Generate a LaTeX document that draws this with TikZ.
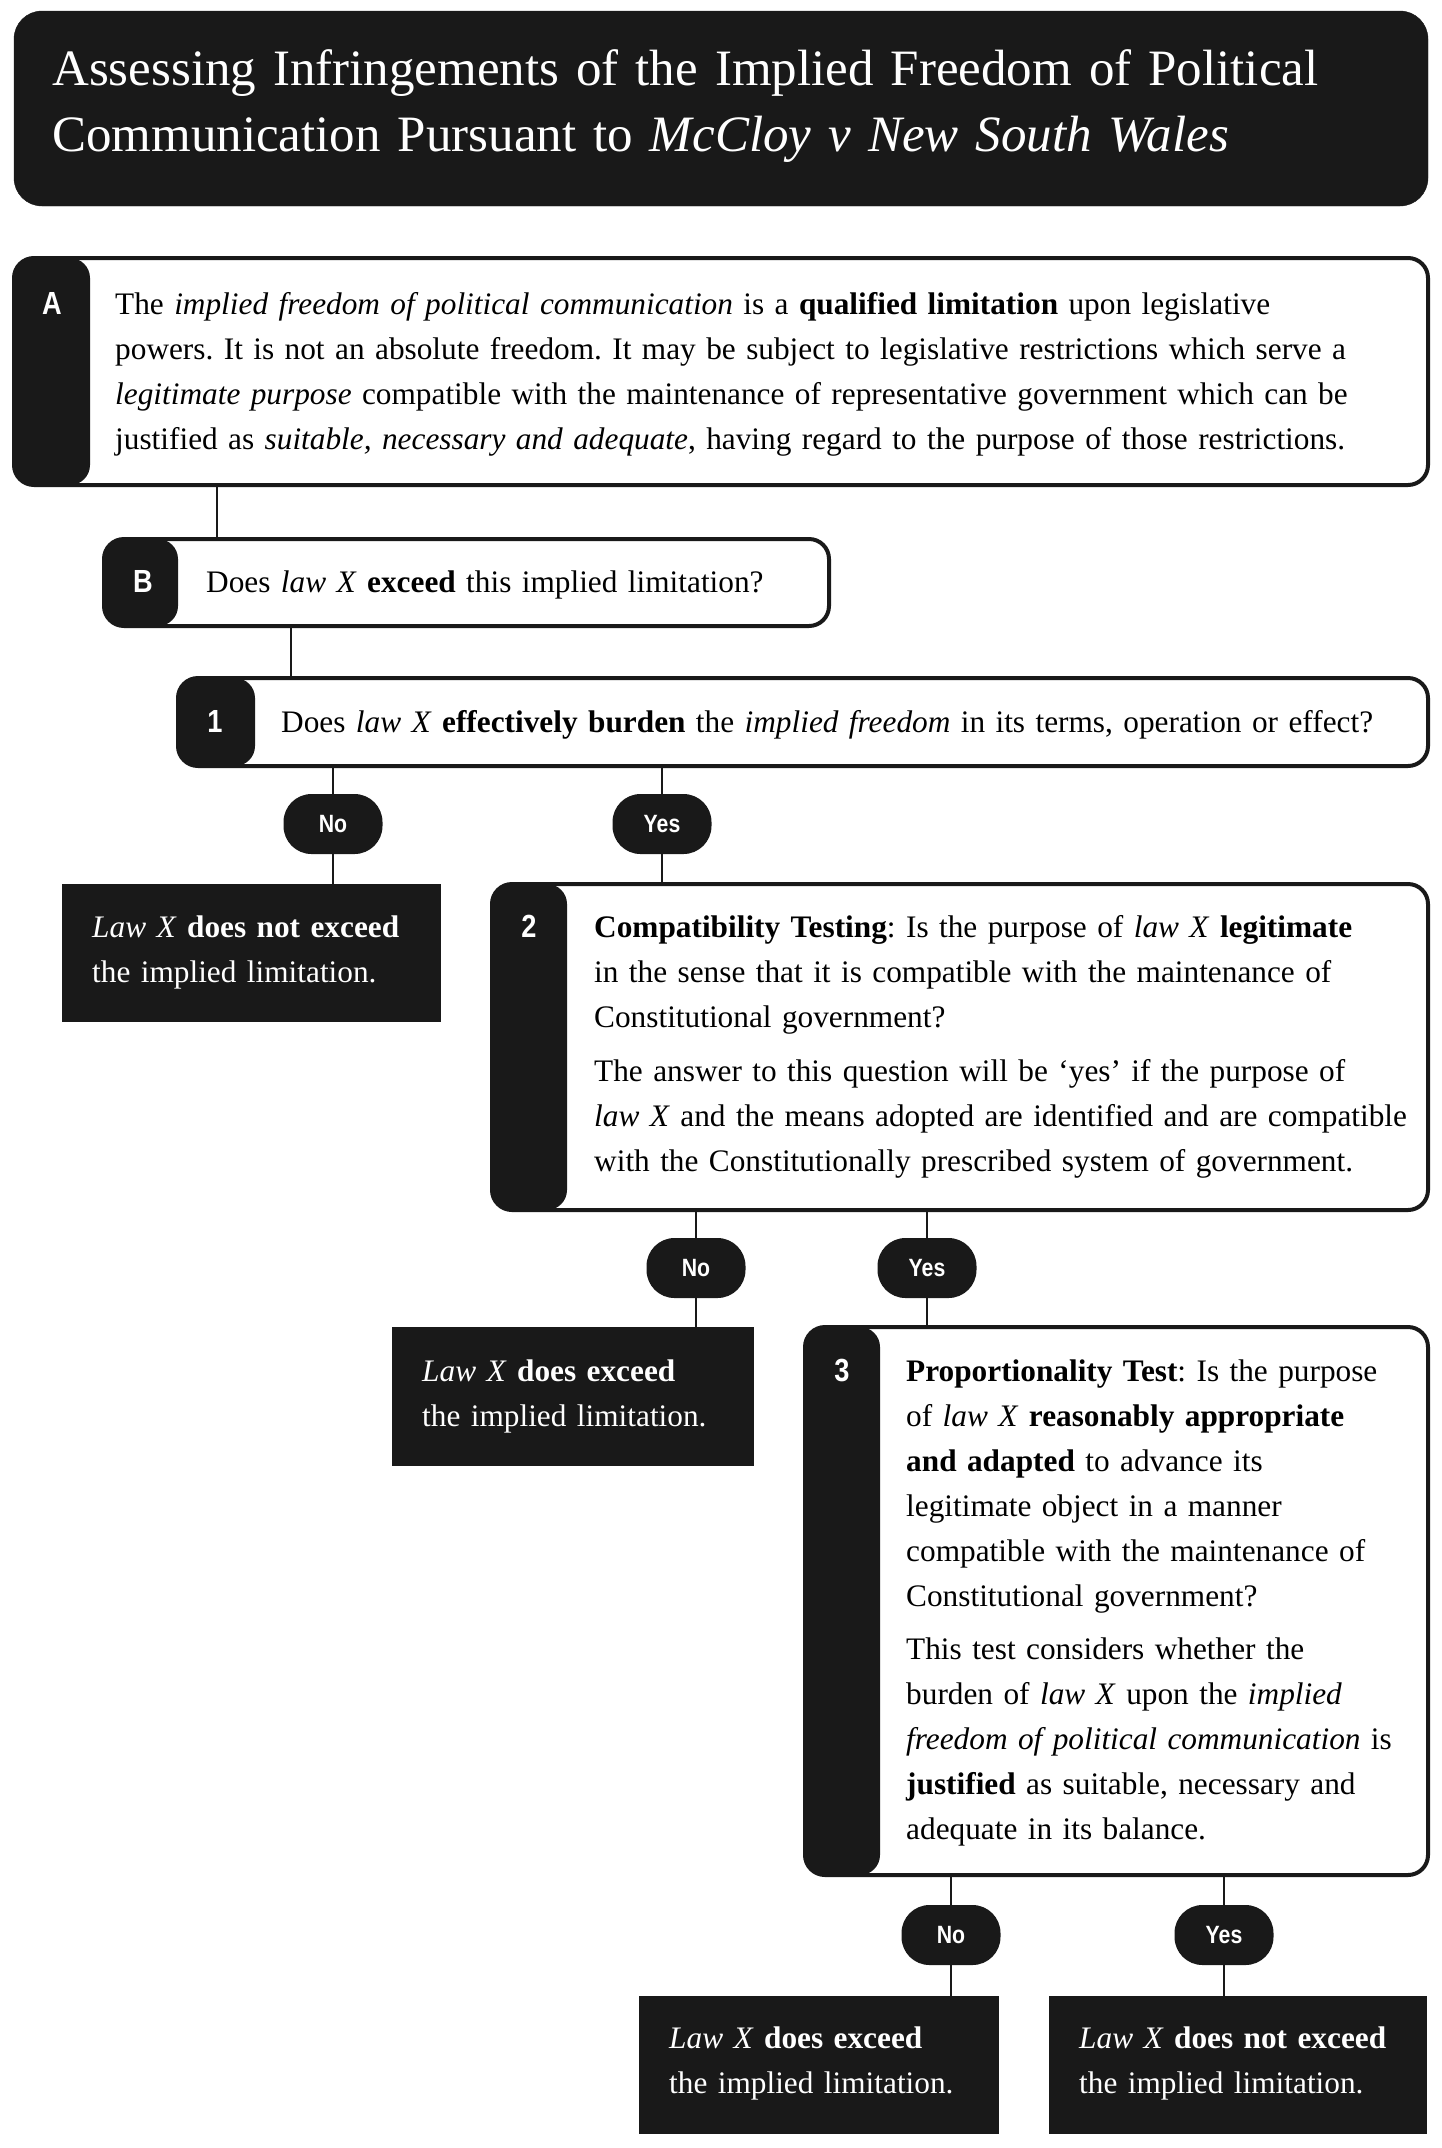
\documentclass[tikz,border=0pt]{standalone}
\usepackage{fontspec}
\setmainfont{Liberation Serif}
\newfontfamily\labfont{Liberation Sans}
\usepackage{graphicx}
\frenchspacing
\tikzset{
  frame/.style={draw=black!90, line width=4pt, fill=white, rounded corners=20pt, inner sep=0pt, outer sep=0pt, anchor=north west},
  stripbox/.style={frame, path picture={\fill[black!90] (path picture bounding box.north west) rectangle ([xshift=#1]path picture bounding box.south west);}},
  darkbox/.style={fill=black!90, draw=black!90, inner sep=0pt, outer sep=0pt, anchor=north west},
  bubble/.style={fill=black!90, rounded corners=28pt, minimum width=99pt, minimum height=60pt, inner sep=0pt, outer sep=0pt, text=white, font=\labfont\bfseries\fontsize{25}{25}\selectfont},
  body/.style={anchor=base west, inner sep=0pt, align=left, font=\fontsize{31.3}{45}\selectfont},
  wbody/.style={body, text=white},
  tag/.style={anchor=base, inner sep=0pt, text=white, font=\labfont\bfseries\fontsize{32}{32}\selectfont},
  link/.style={line width=2.6pt, draw=black!90},
}
\newcommand{\cond}[1]{\scalebox{0.85}[1]{#1}}
\begin{document}
\begin{tikzpicture}[x=1pt,y=1pt]
\useasboundingbox (0,0) rectangle (1442,-2148);
% title
\node[darkbox, rounded corners=28pt, minimum width=1414pt, minimum height=195pt] (title) at (14,-11) {};
\node[anchor=base west, inner sep=0pt, text=white, text width=1380pt, align=left, font=\fontsize{51}{66}\selectfont] (ttext) at (52,-85)
  {Assessing Infringements of the Implied Freedom of Political\\
   Communication Pursuant to \textit{McCloy v New South Wales}};
% box A
\node[stripbox=76pt, minimum width=1414pt, minimum height=227pt] (bA) at (14,-258) {};
\node[tag] (tA) at (52,-314) {\cond{A}};
\node[body, text width=1310pt] (xA) at (115,-314)
  {The \textit{implied freedom of political communication} is a \textbf{qualified limitation} upon legislative\\
   powers. It is not an absolute freedom. It may be subject to legislative restrictions which serve a\\
   \textit{legitimate purpose} compatible with the maintenance of representative government which can be\\
   justified as \textit{suitable, necessary and adequate}, having regard to the purpose of those restrictions.};
% box B
\node[stripbox=74pt, minimum width=725pt, minimum height=87pt] (bB) at (104,-539) {};
\node[tag] (tB) at (143,-592) {\cond{B}};
\node[body, text width=610pt] (xB) at (206,-592)
  {Does \textit{law X} \textbf{exceed} this implied limitation?};
% box 1
\node[stripbox=77pt, minimum width=1250pt, minimum height=88pt] (b1) at (178,-678) {};
\node[tag] (t1) at (215,-732) {\cond{1}};
\node[body, text width=1180pt] (x1) at (281,-732)
  {Does \textit{law X} \textbf{effectively burden} the \textit{implied freedom} in its terms, operation or effect?};
% bubbles row 1
\node[bubble] (n1) at (333,-824) {\cond{No}};
\node[bubble] (y1) at (662,-824) {\cond{Yes}};
% no box 1
\node[darkbox, minimum width=378pt, minimum height=137pt] (r1) at (62,-884) {};
\node[wbody, text width=340pt] (xr1) at (92,-937)
  {\textit{Law X} \textbf{does not exceed}\\ the implied limitation.};
% box 2
\node[stripbox=75pt, minimum width=936pt, minimum height=326pt] (b2) at (492,-884) {};
\node[tag] (t2) at (529,-937) {\cond{2}};
\node[body, text width=860pt] (x2) at (594,-937)
  {\textbf{Compatibility Testing}: Is the purpose of \textit{law X} \textbf{legitimate}\\
   in the sense that it is compatible with the maintenance of\\
   Constitutional government?\\[9pt]
   The answer to this question will be `yes' if the purpose of\\
   \textit{law X} and the means adopted are identified and are compatible\\
   with the Constitutionally prescribed system of government.};
% bubbles row 2
\node[bubble] (n2) at (696,-1268) {\cond{No}};
\node[bubble] (y2) at (927,-1268) {\cond{Yes}};
% no box 2
\node[darkbox, minimum width=361pt, minimum height=138pt] (r2) at (392,-1327) {};
\node[wbody, text width=330pt] (xr2) at (422,-1381)
  {\textit{Law X} \textbf{does exceed}\\ the implied limitation.};
% box 3
\node[stripbox=75pt, minimum width=623pt, minimum height=548pt] (b3) at (805,-1327) {};
\node[tag] (t3) at (842,-1381) {\cond{3}};
\node[body, text width=560pt] (x3) at (906,-1381)
  {\textbf{Proportionality Test}: Is the purpose\\
   of \textit{law X} \textbf{reasonably appropriate}\\
   \textbf{and adapted} to advance its\\
   legitimate object in a manner\\
   compatible with the maintenance of\\
   Constitutional government?\\[8pt]
   This test considers whether the\\
   burden of \textit{law X} upon the \textit{implied}\\
   \textit{freedom of political communication} is\\
   \textbf{justified} as suitable, necessary and\\
   adequate in its balance.};
% bubbles row 3
\node[bubble] (n3) at (951,-1935) {\cond{No}};
\node[bubble] (y3) at (1224,-1935) {\cond{Yes}};
% final boxes
\node[darkbox, minimum width=359pt, minimum height=137pt] (f1) at (639,-1996) {};
\node[wbody, text width=330pt] (xf1) at (669,-2048)
  {\textit{Law X} \textbf{does exceed}\\ the implied limitation.};
\node[darkbox, minimum width=377pt, minimum height=137pt] (f2) at (1049,-1996) {};
\node[wbody, text width=345pt] (xf2) at (1079,-2048)
  {\textit{Law X} \textbf{does not exceed}\\ the implied limitation.};
% connectors
\coordinate (cAB) at (217,0);
\coordinate (cB1) at (291,0);
\draw[link] (cAB |- bA.south) -- (cAB |- bB.north);
\draw[link] (cB1 |- bB.south) -- (cB1 |- b1.north);
\draw[link] (n1.north |- b1.south) -- (n1.north);
\draw[link] (n1.south) -- (n1.south |- r1.north);
\draw[link] (y1.north |- b1.south) -- (y1.north);
\draw[link] (y1.south) -- (y1.south |- b2.north);
\draw[link] (n2.north |- b2.south) -- (n2.north);
\draw[link] (n2.south) -- (n2.south |- r2.north);
\draw[link] (y2.north |- b2.south) -- (y2.north);
\draw[link] (y2.south) -- (y2.south |- b3.north);
\draw[link] (n3.north |- b3.south) -- (n3.north);
\draw[link] (n3.south) -- (n3.south |- f1.north);
\draw[link] (y3.north |- b3.south) -- (y3.north);
\draw[link] (y3.south) -- (y3.south |- f2.north);
\end{tikzpicture}
\end{document}
